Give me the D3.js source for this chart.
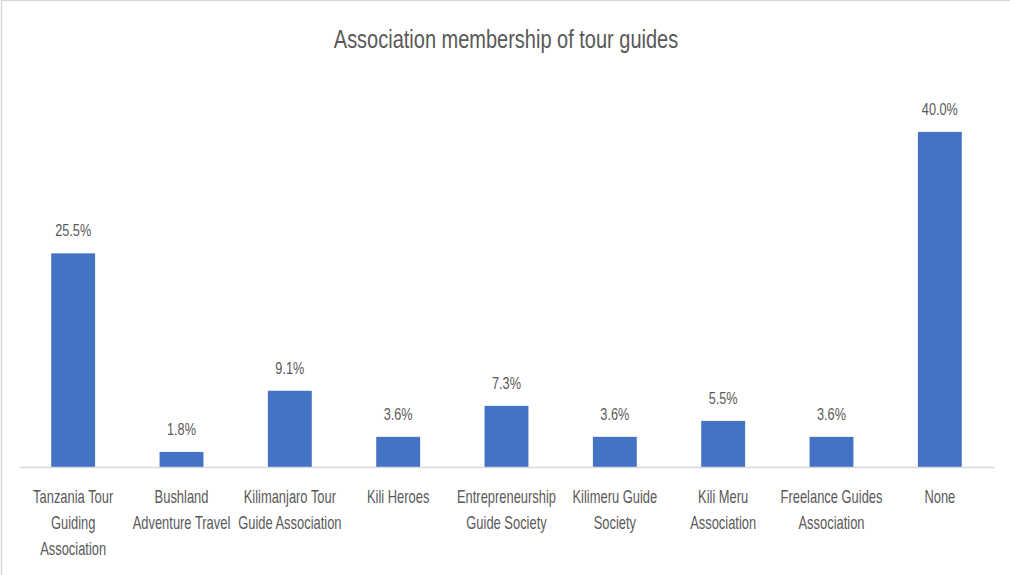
<!DOCTYPE html>
<html>
<head>
<meta charset="utf-8">
<script src="https://cdn.jsdelivr.net/npm/d3@7"></script>
<style>
html,body{margin:0;padding:0;background:#fff;}
svg{display:block;}
text{font-family:"Liberation Sans",Arial,sans-serif;fill:#595959;}
</style>
</head>
<body>
<svg id="chart" width="1010" height="575"></svg>
<script>
const title = "Association membership of tour guides";
const categories = [
  "Tanzania Tour\nGuiding\nAssociation",
  "Bushland\nAdventure Travel",
  "Kilimanjaro Tour\nGuide Association",
  "Kili Heroes",
  "Entrepreneurship\nGuide Society",
  "Kilimeru Guide\nSociety",
  "Kili Meru\nAssociation",
  "Freelance Guides\nAssociation",
  "None"
];
const values = [25.5, 1.8, 9.1, 3.6, 7.3, 3.6, 5.5, 3.6, 40.0];
const valueLabels = ["25.5%", "1.8%", "9.1%", "3.6%", "7.3%", "3.6%", "5.5%", "3.6%", "40.0%"];

const svg = d3.select("#chart");

// chart border
svg.append("rect")
  .attr("x", 1.5).attr("y", 0.5)
  .attr("width", 1030).attr("height", 600)
  .attr("fill", "none").attr("stroke", "#d9d9d9").attr("stroke-width", 1.5);

const x = d3.scaleBand()
  .domain(categories)
  .range([19, 994])
  .paddingInner(0.595)
  .paddingOuter(0.2975);

const y = d3.scaleLinear().domain([0, 45]).range([467, 90]);

// title
svg.append("text")
  .attr("transform", `translate(506,48) scale(0.8,1)`)
  .attr("text-anchor", "middle")
  .attr("font-size", 25)
  .text(title);

// bars
svg.selectAll("rect.bar")
  .data(values)
  .join("rect")
  .attr("class", "bar")
  .attr("x", (d, i) => x(categories[i]))
  .attr("width", x.bandwidth())
  .attr("y", d => y(d))
  .attr("height", d => y(0) - y(d))
  .attr("fill", "#4472C4");

// x axis line
const xAxis = d3.axisBottom(x).tickSize(0).tickFormat("");
const axisG = svg.append("g").attr("transform", `translate(0,${y(0)})`).call(xAxis);
axisG.select(".domain").attr("stroke", "#d9d9d9").attr("stroke-width", 1.5);
axisG.selectAll(".tick").remove();

// data labels
svg.selectAll("text.val")
  .data(values)
  .join("text")
  .attr("class", "val")
  .attr("text-anchor", "middle")
  .attr("font-size", 16.3)
  .attr("transform", (d, i) => `translate(${x(categories[i]) + x.bandwidth() / 2},${y(d) - 17}) scale(0.78,1)`)
  .text((d, i) => valueLabels[i]);

// category labels
const catG = svg.selectAll("g.cat")
  .data(categories)
  .join("g")
  .attr("class", "cat")
  .attr("transform", d => `translate(${x(d) + x.bandwidth() / 2},503)`);

catG.each(function(d) {
  const lines = d.split("\n");
  d3.select(this).selectAll("text")
    .data(lines)
    .join("text")
    .attr("text-anchor", "middle")
    .attr("font-size", 17.7)
    .attr("transform", (l, j) => `translate(0,${j * 25.8}) scale(0.73,1)`)
    .text(l => l);
});
</script>
</body>
</html>
